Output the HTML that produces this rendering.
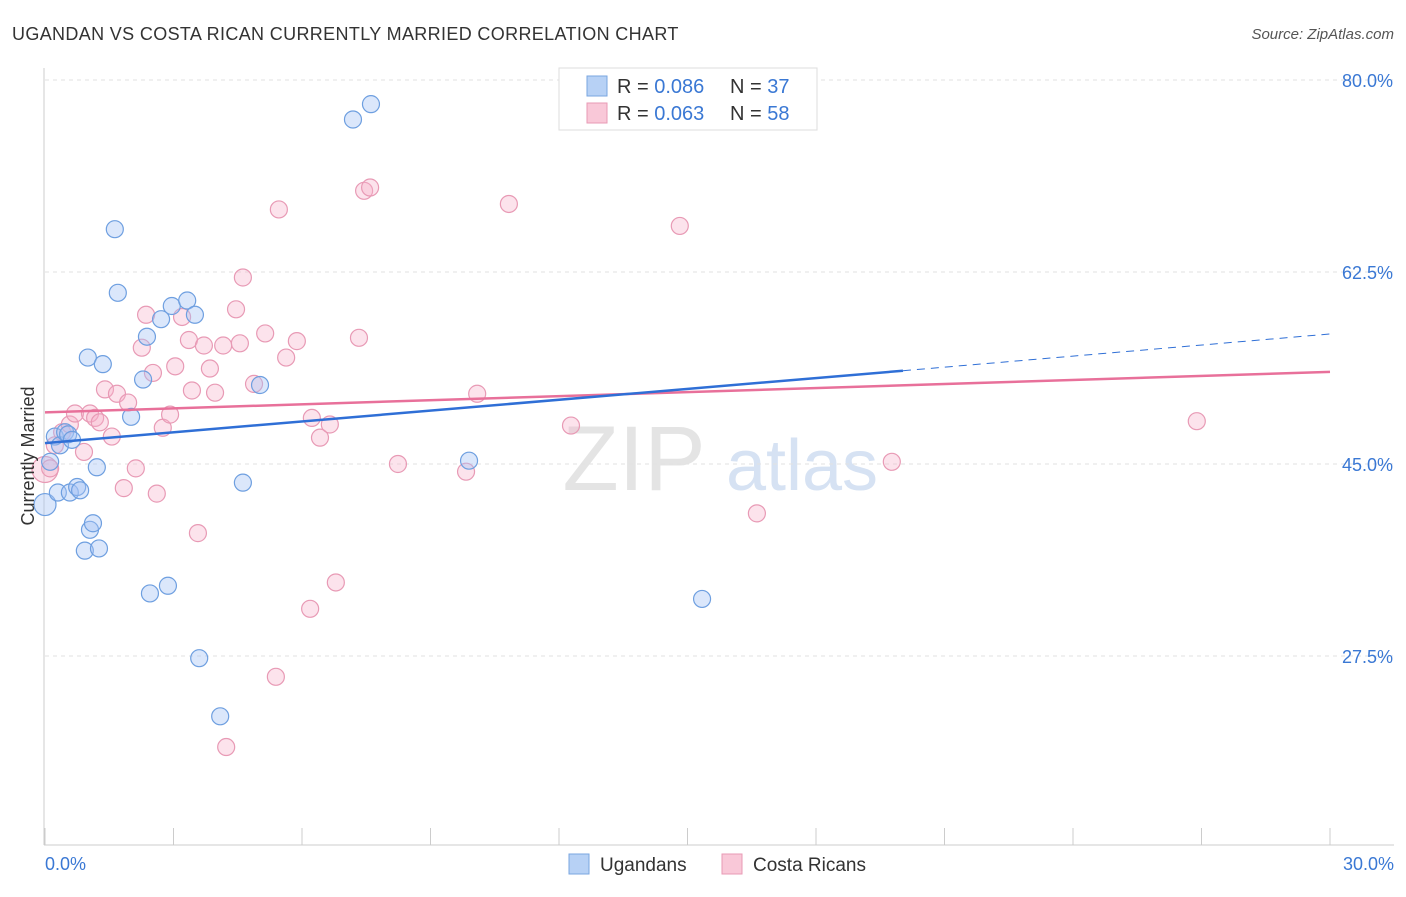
<!DOCTYPE html>
<html><head><meta charset="utf-8"><style>
body{margin:0;background:#fff;font-family:"Liberation Sans",sans-serif;}
svg text{font-family:"Liberation Sans",sans-serif;}
</style></head><body>
<svg id="chart" width="1406" height="892" xmlns="http://www.w3.org/2000/svg">
<text x="12" y="40" font-size="18" fill="#333" letter-spacing="0.35">UGANDAN VS COSTA RICAN CURRENTLY MARRIED CORRELATION CHART</text>
<text x="1394" y="39" font-size="15" fill="#555" text-anchor="end" font-style="italic">Source: ZipAtlas.com</text>
<text x="634" y="490" font-size="92" fill="#e4e4e4" font-family="Liberation Serif" text-anchor="middle">ZIP</text>
<text x="802" y="490" font-size="72" fill="#d6e2f3" text-anchor="middle">atlas</text>
<g id="grid"></g>
<g id="axes"></g>
<g id="marks"></g>
<g id="trends"></g>
<text transform="translate(34,456) rotate(-90)" font-size="18" fill="#333" text-anchor="middle">Currently Married</text>
<g>
<rect x="559" y="68" width="258" height="62" fill="#fff" stroke="#ddd"/>
<rect x="587" y="76" width="20" height="20" fill="#b7d1f5" stroke="#7aa6e0"/>
<rect x="587" y="103" width="20" height="20" fill="#f9c8d8" stroke="#e89ab5"/>
<text x="617" y="93" font-size="20" fill="#333">R = <tspan fill="#3a78d4">0.086</tspan></text>
<text x="730" y="93" font-size="20" fill="#333">N = <tspan fill="#3a78d4">37</tspan></text>
<text x="617" y="120" font-size="20" fill="#333">R = <tspan fill="#3a78d4">0.063</tspan></text>
<text x="730" y="120" font-size="20" fill="#333">N = <tspan fill="#3a78d4">58</tspan></text>
</g>
<g>
<rect x="569" y="854" width="20" height="20" fill="#b7d1f5" stroke="#7aa6e0"/>
<text x="600" y="871" font-size="19" fill="#333">Ugandans</text>
<rect x="722" y="854" width="20" height="20" fill="#f9c8d8" stroke="#e89ab5"/>
<text x="753" y="871" font-size="19" fill="#333">Costa Ricans</text>
</g>
</svg>
<script>
const yTicks=[80,62.5,45,27.5];
const yTickLabels=["80.0%","62.5%","45.0%","27.5%"];
const xTickLabels=["0.0%","30.0%"];
const ugX=[0,0.12,0.23,0.30,0.35,0.47,0.54,0.58,0.63,0.75,0.82,0.93,1.00,1.05,1.12,1.21,1.26,1.35,1.63,1.70,2.01,2.29,2.38,2.45,2.71,2.87,2.96,3.32,3.50,3.60,4.09,4.62,5.02,7.19,7.61,9.90,15.34];
const ugY=[41.3,45.2,47.5,42.4,46.7,47.9,47.7,42.4,47.2,42.9,42.6,37.1,54.7,39.0,39.6,44.7,37.3,54.1,66.4,60.6,49.3,52.7,56.6,33.2,58.2,33.9,59.4,59.9,58.6,27.3,22.0,43.3,52.2,76.4,77.8,45.3,32.7];
const crX=[0,0.12,0.23,0.40,0.58,0.70,0.91,1.05,1.17,1.28,1.40,1.56,1.68,1.84,1.94,2.12,2.26,2.36,2.52,2.61,2.75,2.92,3.04,3.20,3.36,3.43,3.57,3.71,3.85,3.97,4.16,4.23,4.46,4.55,4.62,4.88,5.14,5.39,5.46,5.63,5.88,6.19,6.23,6.42,6.65,6.79,7.33,7.45,7.59,8.24,9.83,10.09,10.83,12.28,14.82,16.62,19.77,26.89];
const crY=[44.5,44.6,46.7,47.9,48.6,49.6,46.1,49.6,49.2,48.8,51.8,47.5,51.4,42.8,50.6,44.6,55.6,58.6,53.3,42.3,48.3,49.5,53.9,58.4,56.3,51.7,38.7,55.8,53.7,51.5,55.8,19.2,59.1,56.0,62.0,52.3,56.9,25.6,68.2,54.7,56.2,31.8,49.2,47.4,48.6,34.2,56.5,69.9,70.2,45.0,44.3,51.4,68.7,48.5,66.7,40.5,45.2,48.9];
const ugTrend=[46.9,53.5,56.85];
const crTrend=[49.7,53.4];
const NS="http://www.w3.org/2000/svg";
const X=v=>45+v/30*1285;
const Y=v=>80+(80-v)*10.971;
function mk(tag,attrs,parent){const e=document.createElementNS(NS,tag);for(const k in attrs)e.setAttribute(k,attrs[k]);parent.appendChild(e);return e;}
const grid=document.getElementById('grid'),axes=document.getElementById('axes'),marks=document.getElementById('marks'),trends=document.getElementById('trends');
yTicks.forEach((t,i)=>{
  const l=mk('line',{x1:45,x2:1394,y1:Y(t),y2:Y(t),stroke:'#e2e2e2','stroke-dasharray':'4,4'},grid);
  
  
  const tx=mk('text',{x:1393,y:Y(t)+7,'font-size':18,fill:'#3a78d4','text-anchor':'end'},axes);
  tx.textContent=yTickLabels[i];
  
  
});
let a=mk('line',{x1:44,x2:44,y1:68,y2:845,stroke:'#ccc'},axes);


a=mk('line',{x1:44,x2:1394,y1:845,y2:845,stroke:'#ccc'},axes);


for(let i=0;i<=10;i++){
  const t=mk('line',{x1:X(i*3),x2:X(i*3),y1:828,y2:845,stroke:'#ccc'},axes);
  
  
}
[[0,'start',45],[30,'end',1394]].forEach((d,i)=>{
  const tx=mk('text',{x:d[2],y:870,'font-size':18,fill:'#3a78d4','text-anchor':d[1]},axes);
  tx.textContent=xTickLabels[i];
  
  
});
crX.forEach((x,i)=>{
  const c=mk('circle',{cx:X(x),cy:Y(crY[i]),r:i===0?13:8.5,fill:'rgba(246,176,200,0.35)',stroke:'#e89ab5','stroke-width':1.2},marks);
  
  
});
ugX.forEach((x,i)=>{
  const c=mk('circle',{cx:X(x),cy:Y(ugY[i]),r:i===0?11:8.5,fill:'rgba(164,194,244,0.4)',stroke:'#6e9fe0','stroke-width':1.2},marks);
  
  
});
let t=mk('line',{x1:X(0),y1:Y(crTrend[0]),x2:X(30),y2:Y(crTrend[1]),stroke:'#e8709a','stroke-width':2.5},trends);


t=mk('line',{x1:X(0),y1:Y(ugTrend[0]),x2:X(20.03),y2:Y(ugTrend[1]),stroke:'#2f6fd6','stroke-width':2.5},trends);


t=mk('line',{x1:X(20.03),y1:Y(ugTrend[1]),x2:X(30),y2:Y(ugTrend[2]),stroke:'#2f6fd6','stroke-width':1,'stroke-dasharray':'8,6'},trends);


</script>
</body></html>
